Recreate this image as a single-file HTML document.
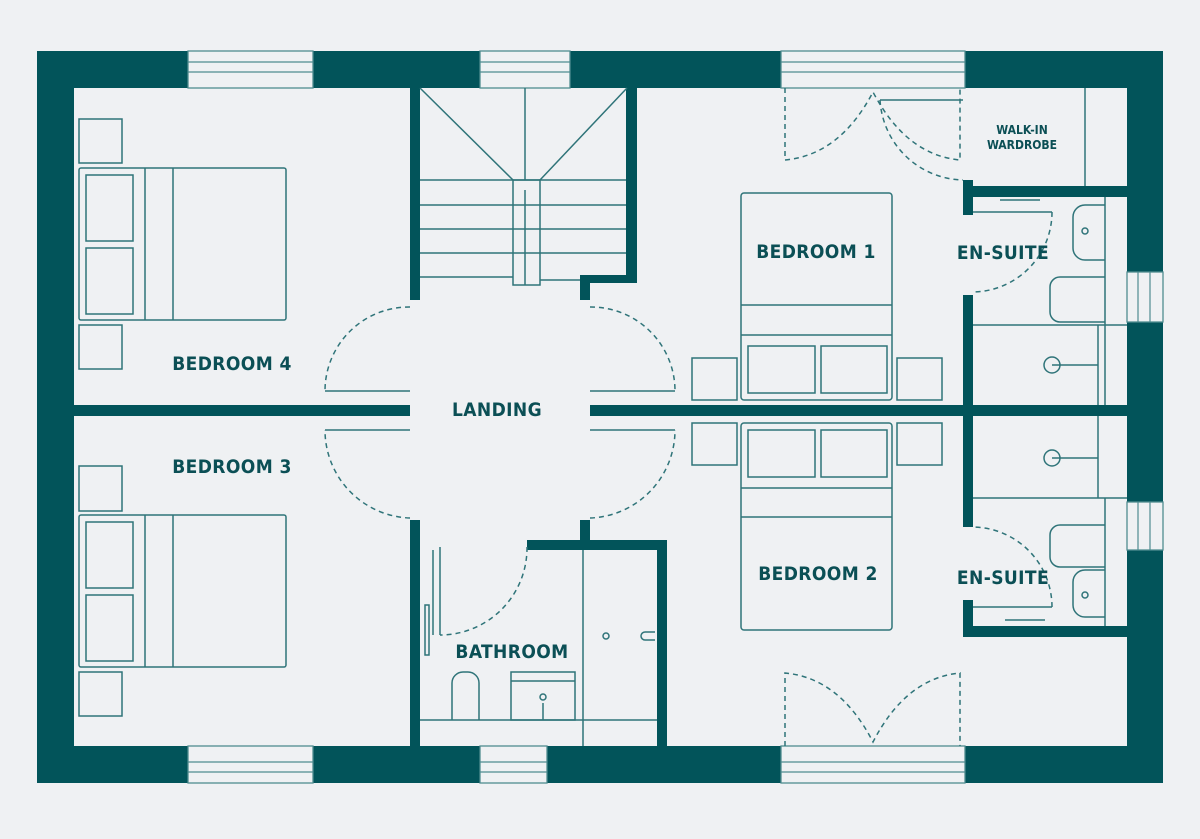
<!DOCTYPE html>
<html><head><meta charset="utf-8"><style>
html,body{margin:0;padding:0;background:#eff1f3;}
svg{display:block}
text{font-family:"DejaVu Sans Condensed","Liberation Sans",sans-serif;font-weight:bold;fill:#0b4f55;}
</style></head><body>
<svg width="1200" height="839" viewBox="0 0 1200 839">
<rect width="1200" height="839" fill="#eff1f3"/>
<g fill="#02545a">
<rect x="37" y="51" width="1126" height="37"/>
<rect x="37" y="746" width="1126" height="37"/>
<rect x="37" y="51" width="37" height="732"/>
<rect x="1127" y="51" width="36" height="732"/>
<rect x="74" y="405" width="336" height="11"/>
<rect x="590" y="405" width="537" height="11"/>
<rect x="410" y="88" width="10" height="212"/>
<rect x="410" y="520" width="10" height="226"/>
<rect x="626" y="88" width="11" height="195"/>
<rect x="580" y="275" width="57" height="8"/>
<rect x="580" y="275" width="10" height="25"/>
<rect x="527" y="540" width="140" height="10"/>
<rect x="657" y="540" width="10" height="206"/>
<rect x="580" y="520" width="10" height="30"/>
<rect x="963" y="186" width="164" height="11"/>
<rect x="963" y="180" width="10" height="35"/>
<rect x="963" y="295" width="10" height="232"/>
<rect x="963" y="600" width="10" height="37"/>
<rect x="963" y="626" width="164" height="11"/>
</g>
<g fill="#eff1f3" stroke="#4f8c90" stroke-width="1.3">
<rect x="188" y="51" width="125" height="37"/>
<rect x="480" y="51" width="90" height="37"/>
<rect x="781" y="51" width="184" height="37"/>
<rect x="188" y="746" width="125" height="37"/>
<rect x="480" y="746" width="67" height="37"/>
<rect x="781" y="746" width="184" height="37"/>
<rect x="1127" y="272" width="36" height="50"/>
<rect x="1127" y="502" width="36" height="48"/>
</g>
<g stroke="#4f8c90" stroke-width="1.2" fill="none">
<line x1="188" y1="62" x2="313" y2="62"/><line x1="188" y1="72" x2="313" y2="72"/>
<line x1="480" y1="62" x2="570" y2="62"/><line x1="480" y1="72" x2="570" y2="72"/>
<line x1="781" y1="62" x2="965" y2="62"/><line x1="781" y1="72" x2="965" y2="72"/>
<line x1="188" y1="762" x2="313" y2="762"/><line x1="188" y1="772" x2="313" y2="772"/>
<line x1="480" y1="762" x2="547" y2="762"/><line x1="480" y1="772" x2="547" y2="772"/>
<line x1="781" y1="762" x2="965" y2="762"/><line x1="781" y1="772" x2="965" y2="772"/>
<line x1="1138" y1="272" x2="1138" y2="322"/><line x1="1150" y1="272" x2="1150" y2="322"/>
<line x1="1138" y1="502" x2="1138" y2="550"/><line x1="1150" y1="502" x2="1150" y2="550"/>
</g>
<g stroke="#2f7479" stroke-width="1.5" fill="none">
<line x1="420" y1="88" x2="513" y2="180"/><line x1="627" y1="88" x2="540" y2="180"/>
<line x1="525" y1="88" x2="525" y2="180"/>
<rect x="513" y="180" width="27" height="105"/>
<line x1="525" y1="190" x2="525" y2="285"/>
<line x1="420" y1="180" x2="626" y2="180"/><line x1="420" y1="205" x2="626" y2="205"/>
<line x1="420" y1="229" x2="626" y2="229"/><line x1="420" y1="253" x2="626" y2="253"/>
<line x1="420" y1="277" x2="513" y2="277"/><line x1="540" y1="280" x2="580" y2="280"/>
<rect x="79" y="119" width="43" height="44"/><rect x="79" y="325" width="43" height="44"/>
<rect x="79" y="168" width="207" height="152" rx="2"/>
<rect x="86" y="175" width="47" height="66"/><rect x="86" y="248" width="47" height="66"/>
<line x1="145" y1="168" x2="145" y2="320"/><line x1="173" y1="168" x2="173" y2="320"/>
<rect x="79" y="466" width="43" height="45"/><rect x="79" y="672" width="43" height="44"/>
<rect x="79" y="515" width="207" height="152" rx="2"/>
<rect x="86" y="522" width="47" height="66"/><rect x="86" y="595" width="47" height="66"/>
<line x1="145" y1="515" x2="145" y2="667"/><line x1="173" y1="515" x2="173" y2="667"/>
<rect x="741" y="193" width="151" height="207" rx="3"/>
<line x1="741" y1="305" x2="892" y2="305"/><line x1="741" y1="335" x2="892" y2="335"/>
<rect x="748" y="346" width="67" height="47"/><rect x="821" y="346" width="66" height="47"/>
<rect x="692" y="358" width="45" height="42"/><rect x="897" y="358" width="45" height="42"/>
<rect x="741" y="423" width="151" height="207" rx="3"/>
<line x1="741" y1="488" x2="892" y2="488"/><line x1="741" y1="517" x2="892" y2="517"/>
<rect x="748" y="430" width="67" height="47"/><rect x="821" y="430" width="66" height="47"/>
<rect x="692" y="423" width="45" height="42"/><rect x="897" y="423" width="45" height="42"/>
<line x1="1085" y1="88" x2="1085" y2="186"/>
<line x1="1105" y1="197" x2="1105" y2="405"/>
<path d="M1105 205 H1085 a12 12 0 0 0 -12 12 V248 a12 12 0 0 0 12 12 H1105"/>
<circle cx="1085" cy="231" r="3"/>
<path d="M1105 277 H1060 a10 10 0 0 0 -10 10 V312 a10 10 0 0 0 10 10 H1105"/>
<line x1="973" y1="325" x2="1127" y2="325"/>
<line x1="1098" y1="325" x2="1098" y2="405"/>
<circle cx="1052" cy="365" r="8"/><line x1="1052" y1="365" x2="1098" y2="365"/>
<line x1="1000" y1="200" x2="1040" y2="200"/>
<line x1="973" y1="498" x2="1127" y2="498"/>
<line x1="1098" y1="416" x2="1098" y2="498"/>
<circle cx="1052" cy="458" r="8"/><line x1="1052" y1="458" x2="1098" y2="458"/>
<line x1="1105" y1="498" x2="1105" y2="626"/>
<path d="M1105 525 H1060 a10 10 0 0 0 -10 10 V557 a10 10 0 0 0 10 10 H1105"/>
<path d="M1105 570 H1085 a12 12 0 0 0 -12 12 V605 a12 12 0 0 0 12 12 H1105"/>
<circle cx="1085" cy="595" r="3"/>
<line x1="1005" y1="620" x2="1045" y2="620"/>
<line x1="420" y1="720" x2="657" y2="720"/>
<line x1="583" y1="550" x2="583" y2="746"/>
<circle cx="606" cy="636" r="3"/><path d="M655 632 H645 a4 4 0 0 0 0 8 H655"/>
<path d="M452 720 V683 a11 11 0 0 1 11 -11 H468 a11 11 0 0 1 11 11 V720"/>
<rect x="511" y="672" width="64" height="48"/><line x1="511" y1="681" x2="575" y2="681"/>
<circle cx="543" cy="697" r="3"/><line x1="543" y1="703" x2="543" y2="720"/>
<rect x="425" y="605" width="4" height="50"/>
<line x1="433" y1="550" x2="433" y2="635"/>
<line x1="325" y1="391" x2="410" y2="391"/><line x1="325" y1="430" x2="410" y2="430"/>
<line x1="590" y1="391" x2="675" y2="391"/><line x1="590" y1="430" x2="675" y2="430"/>
<line x1="440" y1="547" x2="440" y2="635"/>
<line x1="880" y1="100" x2="963" y2="100"/>
<line x1="973" y1="212" x2="1052" y2="212"/>
<line x1="973" y1="607" x2="1052" y2="607"/>
</g>
<g stroke="#2f7479" stroke-width="1.5" fill="none" stroke-dasharray="5,4">
<path d="M410 307 A84 84 0 0 0 325 391"/>
<path d="M410 518 A88 88 0 0 1 325 430"/>
<path d="M590 307 A84 84 0 0 1 675 391"/>
<path d="M590 518 A88 88 0 0 0 675 430"/>
<path d="M527 547 A87 87 0 0 1 440 635"/>
<path d="M785 88 V160 Q840 155 873 92 Q906 155 960 160 V88"/>
<path d="M785 746 V673 Q840 678 873 742 Q906 678 960 673 V746"/>
<path d="M880 100 A85 85 0 0 0 963 180"/>
<path d="M1052 212 A80 80 0 0 1 973 292"/>
<path d="M1052 607 A80 80 0 0 0 973 527"/>
</g>
<g font-size="19" text-anchor="middle" letter-spacing="0.4">
<text x="232" y="370">BEDROOM 4</text>
<text x="232" y="473">BEDROOM 3</text>
<text x="497" y="416">LANDING</text>
<text x="816" y="258">BEDROOM 1</text>
<text x="1003" y="259">EN-SUITE</text>
<text x="818" y="580">BEDROOM 2</text>
<text x="1003" y="584">EN-SUITE</text>
<text x="512" y="658">BATHROOM</text>
<text x="1022" y="134" font-size="12" letter-spacing="0">WALK-IN</text>
<text x="1022" y="149" font-size="12" letter-spacing="0">WARDROBE</text>
</g>
</svg>
</body></html>
